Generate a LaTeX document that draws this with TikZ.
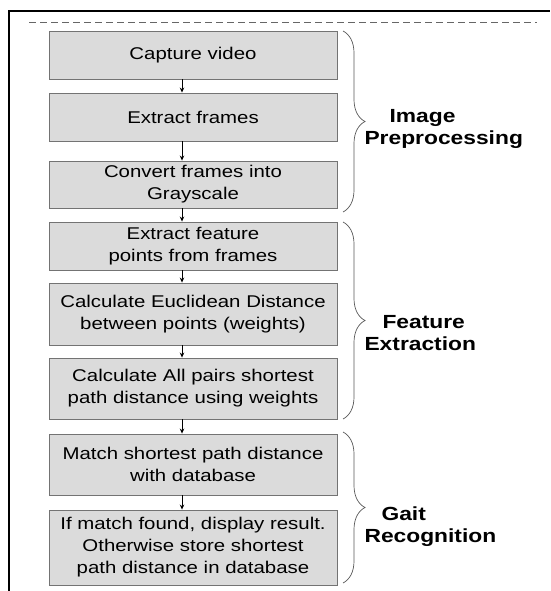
\documentclass[tikz,border=0pt]{standalone}
\usepackage{fontspec}
\setmainfont{Liberation Sans}[FakeStretch=1.2]
\usetikzlibrary{arrows.meta,decorations.pathreplacing}
\tikzset{
  stepbox/.style={draw=black!55, fill=black!14, line width=0.9pt,
    minimum width=288pt, inner sep=0pt, align=center,
    font=\fontsize{17}{22}\selectfont},
  flow/.style={-{Stealth[length=5pt,width=4.5pt]}, line width=0.7pt},
  stage/.style={decorate, decoration={brace, amplitude=22pt},
    draw=black!65, line width=0.7pt},
  stagelabel/.style={anchor=west, align=left,
    font=\bfseries\fontsize{19}{22}\selectfont}
}
\begin{document}
\begin{tikzpicture}
    \pgfsetxvec{\pgfpoint{1pt}{0}}
    \pgfsetyvec{\pgfpoint{0}{-1pt}}
    \useasboundingbox (0,0) rectangle (550,591);

    % frame
    \draw[line width=1.6pt] (9,591) -- (9,11) -- (550,11);
    \draw[black!60, dash pattern=on 7pt off 4pt] (29,22) -- (537,22);

    % steps
    \node[stepbox, minimum height=48pt] (capture) at (193,55) {Capture video};
    \node[stepbox, minimum height=48pt] (frames) at (193,117) {Extract frames};
    \node[stepbox, minimum height=47pt] (gray) at (193,184.5) {Convert frames into\\Grayscale};
    \node[stepbox, minimum height=48pt] (points) at (193,246) {Extract feature\\points from frames};
    \node[stepbox, minimum height=62pt] (euclid) at (193,314) {Calculate Euclidean Distance\\between points (weights)};
    \node[stepbox, minimum height=61pt] (allpairs) at (193,388.5) {Calculate All pairs shortest\\path distance using weights};
    \node[stepbox, minimum height=61pt] (match) at (193,464.5) {Match shortest path distance\\with database};
    \node[stepbox, minimum height=75pt] (result) at (193,547.5) {If match found, display result.\\Otherwise store shortest\\path distance in database};

    \foreach \a/\b in {capture/frames,frames/gray,gray/points,points/euclid,
                       euclid/allpairs,allpairs/match,match/result} {
      \draw[flow] ([xshift=-11pt]\a.south) -- ([xshift=-11pt]\b.north);
    }

    % stages
    \draw[stage] (343,31) -- (343,212);
    \draw[stage] (343,222) -- (343,419);
    \draw[stage] (343,432) -- (343,583);
    \node[stagelabel] (prep) at (361,129) {\hspace*{25pt}Image\\Preprocessing};
    \node[stagelabel] (feat) at (361,333) {\hspace*{18pt}Feature\\Extraction};
    \node[stagelabel] (gait) at (361,527) {\hspace*{17pt}Gait\\Recognition};
  \end{tikzpicture}
\end{document}
